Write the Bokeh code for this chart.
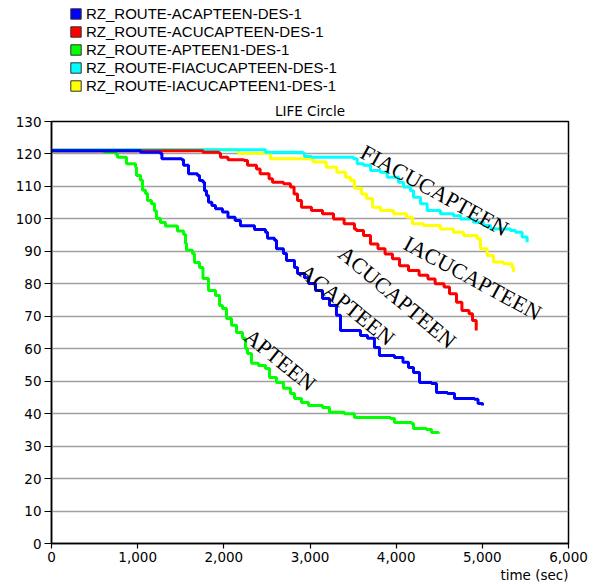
from bokeh.plotting import figure
from bokeh.layouts import column
from bokeh.models import Legend, LegendItem, Label, NumeralTickFormatter, FixedTicker, Range1d, Title
from bokeh.embed import file_html
from bokeh.resources import INLINE

# ---------------- data ----------------
series_names = [
    "RZ_ROUTE-ACAPTEEN-DES-1",
    "RZ_ROUTE-ACUCAPTEEN-DES-1",
    "RZ_ROUTE-APTEEN1-DES-1",
    "RZ_ROUTE-FIACUCAPTEEN-DES-1",
    "RZ_ROUTE-IACUCAPTEEN1-DES-1",
]
series_colors = ["#0000ff", "#ff0000", "#00ff00", "#00ffff", "#ffff00"]
curve_labels = ["ACAPTEEN", "ACUCAPTEEN", "APTEEN", "FIACUCAPTEEN", "IACUCAPTEEN"]

x_ticks = [0, 1000, 2000, 3000, 4000, 5000, 6000]
y_ticks = [0, 10, 20, 30, 40, 50, 60, 70, 80, 90, 100, 110, 120, 130]

acap_t = [0, 1033, 1260, 1281, 1512, 1532, 1567, 1590, 1694, 1718, 1758, 1776, 1799, 1822,
          1861, 1903, 1984, 2048, 2131, 2193, 2356, 2483, 2507, 2588, 2611, 2692, 2727, 2820,
          2855, 2936, 2983, 3064, 3145, 3226, 3307, 3354, 3516, 3586, 3667, 3748, 3806, 3980,
          4079, 4143, 4201, 4271, 4410, 4468, 4596, 4677, 4909, 4950, 5002]
acap_v = [121, 120.5, 120.2, 118.5, 118.2, 116.5, 116.5, 113.9, 113.4, 111.8, 111.3, 108.7, 107.2, 105.1,
          104.1, 103.1, 102.1, 100.5, 99.5, 97.9, 96.7, 95.9, 94.0, 93.4, 90.8, 89.3, 87.2, 85.0,
          83.2, 81.9, 80.1, 77.9, 75.5, 73.3, 70.3, 65.6, 65.6, 64.1, 63.2, 60.4, 57.9, 57.3,
          55.8, 54.2, 52.7, 49.6, 49.3, 46.5, 46.2, 44.7, 44.4, 43.1, 42.5]

acuc_t = [0, 1758, 1945, 1961, 2048, 2235, 2275, 2379, 2421, 2525, 2565, 2692, 2773, 2815,
          2855, 2901, 3017, 3145, 3273, 3396, 3516, 3539, 3621, 3702, 3789, 3871, 3957, 4039,
          4143, 4266, 4369, 4452, 4556, 4619, 4700, 4763, 4846, 4886, 4929]
acuc_v = [121, 120.5, 120.2, 119.0, 118.2, 118.0, 116.5, 115.4, 113.9, 112.4, 111.3, 110.8, 109.8, 107.7,
          105.7, 103.6, 102.6, 101.6, 100.0, 98.5, 96.9, 96.4, 94.9, 92.3, 90.8, 89.2, 87.7, 85.6,
          84.1, 82.6, 81.5, 80.0, 79.0, 76.9, 74.3, 71.8, 70.8, 68.7, 65.6]

apt_t = [0, 615, 743, 766, 870, 975, 986, 1033, 1056, 1091, 1114, 1160, 1195, 1218, 1265, 1323,
         1462, 1532, 1555, 1567, 1636, 1659, 1718, 1758, 1822, 1903, 1950, 1984, 2031, 2089, 2147,
         2217, 2251, 2275, 2321, 2402, 2483, 2530, 2611, 2692, 2773, 2820, 2901, 2983, 3145, 3226,
         3400, 3516, 3934, 3980, 4178, 4201, 4352, 4410, 4491]
apt_v = [121, 120.5, 120.0, 119.0, 117.0, 116.0, 113.4, 111.9, 108.8, 107.8, 105.7, 104.7, 102.5, 100.1, 98.9, 97.8,
         96.3, 95.3, 92.4, 90.3, 89.3, 86.6, 85.0, 81.6, 77.9, 76.4, 73.3, 72.4, 69.3, 67.2, 65.0,
         63.2, 60.1, 58.5, 55.5, 54.8, 53.9, 51.1, 49.6, 47.8, 46.2, 44.7, 43.4, 42.5, 41.9, 40.4,
         40.0, 38.8, 38.5, 37.3, 37.0, 35.4, 35.1, 34.2, 33.9]

fiac_t = [0, 2483, 2919, 2936, 3017, 3505, 3548, 3621, 3702, 3818, 3896, 4027, 4085, 4166, 4201,
          4282, 4360, 4514, 4665, 4747, 4897, 5013, 5095, 5327, 5385, 5462, 5520]
fiac_v = [121.3, 120.5, 120.2, 119.2, 119.0, 118.5, 117.0, 116.5, 114.9, 114.4, 112.8, 111.3, 109.8, 108.7, 106.7,
          104.7, 102.6, 101.6, 101.0, 100.0, 99.0, 98.0, 96.9, 96.4, 95.9, 94.4, 92.8]

iacu_t = [0, 2170, 2541, 3017, 3040, 3188, 3312, 3412, 3470, 3516, 3598, 3656, 3725, 3818, 3969,
          4120, 4189, 4317, 4514, 4665, 4781, 4940, 4979, 5056, 5129, 5245, 5346, 5362]
iacu_v = [121.3, 120.2, 118.5, 118.2, 117.5, 115.9, 114.4, 112.8, 111.8, 109.4, 107.7, 106.3, 103.6, 102.6, 101.6,
          100.5, 98.5, 98.0, 96.9, 95.9, 94.9, 93.9, 90.8, 88.7, 86.7, 86.2, 85.1, 83.6]

series_t = [acap_t, acuc_t, apt_t, fiac_t, iacu_t]
series_v = [acap_v, acuc_v, apt_v, fiac_v, iacu_v]

# annotation anchors (data coords) and angles for the in-plot curve names
label_anchor_x = [2913, 3366, 2274, 3609, 4108]
label_anchor_y = [84.7, 90.3, 64.7, 121.1, 93.0]
label_angle = [-39, -40, -39, -29, -28.5]

TICK_FONT = "DejaVu Sans"

# ---------------- legend strip (top) ----------------
top = figure(width=599, height=98, output_backend="svg", toolbar_location=None,
             x_range=Range1d(0, 1), y_range=Range1d(0, 1),
             x_axis_location=None, y_axis_location=None,
             min_border_left=0, min_border_right=0, min_border_top=0, min_border_bottom=0)
top.grid.visible = False
top.outline_line_color = None
top.background_fill_color = "white"
top.border_fill_color = "white"

# swatch renderers live outside the visible range; only their legend glyphs show
swatches = []
for i in range(5):
    r = top.quad(left=[-3], right=[-2], top=[-2], bottom=[-3], fill_color=series_colors[i],
                 line_color="#303030", line_width=1)
    swatches.append(r)
items = [LegendItem(label=series_names[i], renderers=[swatches[i]]) for i in range(5)]
# the column layout aligns this strip's frame with the chart frame (left edge at 51px)
legend = Legend(items=items, location=(18, 4))
legend.border_line_alpha = 0
legend.background_fill_alpha = 0
legend.padding = 0
legend.margin = 0
legend.spacing = 1
legend.glyph_width = 13
legend.glyph_height = 13
legend.label_height = 14
legend.label_standoff = 4
legend.label_text_font = "Liberation Sans"
legend.label_text_font_size = "15px"
legend.label_text_color = "#000000"
top.add_layout(legend)

# ---------------- main chart ----------------
p = figure(width=599, height=486, output_backend="svg", toolbar_location=None,
           x_range=Range1d(0, 6000), y_range=Range1d(0, 130),
           min_border_left=51, min_border_right=31, min_border_top=23, min_border_bottom=41,
           title="LIFE Circle")
p.background_fill_color = "white"
p.border_fill_color = "white"
p.outline_line_color = "black"
p.outline_line_width = 1.5

p.title.align = "center"
p.title.text_font = TICK_FONT
p.title.text_font_size = "13.5px"
p.title.text_font_style = "normal"
p.title.text_color = "#000000"
p.title.standoff = 5

for ax in (p.xaxis[0], p.yaxis[0]):
    ax.axis_line_color = "black"
    ax.axis_line_width = 1.5
    ax.major_tick_line_color = "black"
    ax.major_tick_line_width = 1.2
    ax.major_tick_in = 0
    ax.minor_tick_line_color = None
    ax.major_label_text_font = TICK_FONT
    ax.major_label_text_font_size = "13.5px"
    ax.major_label_text_color = "#000000"
    ax.major_label_standoff = 3

p.xaxis.ticker = FixedTicker(ticks=x_ticks)
p.xaxis.formatter = NumeralTickFormatter(format="0,0")
p.xaxis.major_tick_out = 5
p.yaxis.ticker = FixedTicker(ticks=y_ticks)
p.yaxis.major_tick_out = 7

p.xgrid.visible = False
p.ygrid.ticker = FixedTicker(ticks=y_ticks)
p.ygrid.grid_line_color = "#a0a0a0"
p.ygrid.grid_line_width = 1.5

# draw order: yellow, cyan, green, red, blue (blue on top)
for i in [4, 3, 2, 1, 0]:
    p.step(series_t[i], series_v[i], mode="after", line_color=series_colors[i], line_width=3)

# in-plot curve names
for i in range(5):
    p.add_layout(Label(x=label_anchor_x[i], y=label_anchor_y[i], text=curve_labels[i],
                       angle=label_angle[i], angle_units="deg",
                       text_align="left", text_baseline="alphabetic",
                       text_font="Liberation Serif", text_font_size="22px", text_color="black"))

p.add_layout(Title(text="time (sec)", align="right", text_font=TICK_FONT,
                   text_font_size="13.5px", text_font_style="normal", text_color="black",
                   standoff=0, offset=0), "below")

layout = column(top, p, spacing=0)
open("out.html", "w").write(file_html(layout, INLINE))
